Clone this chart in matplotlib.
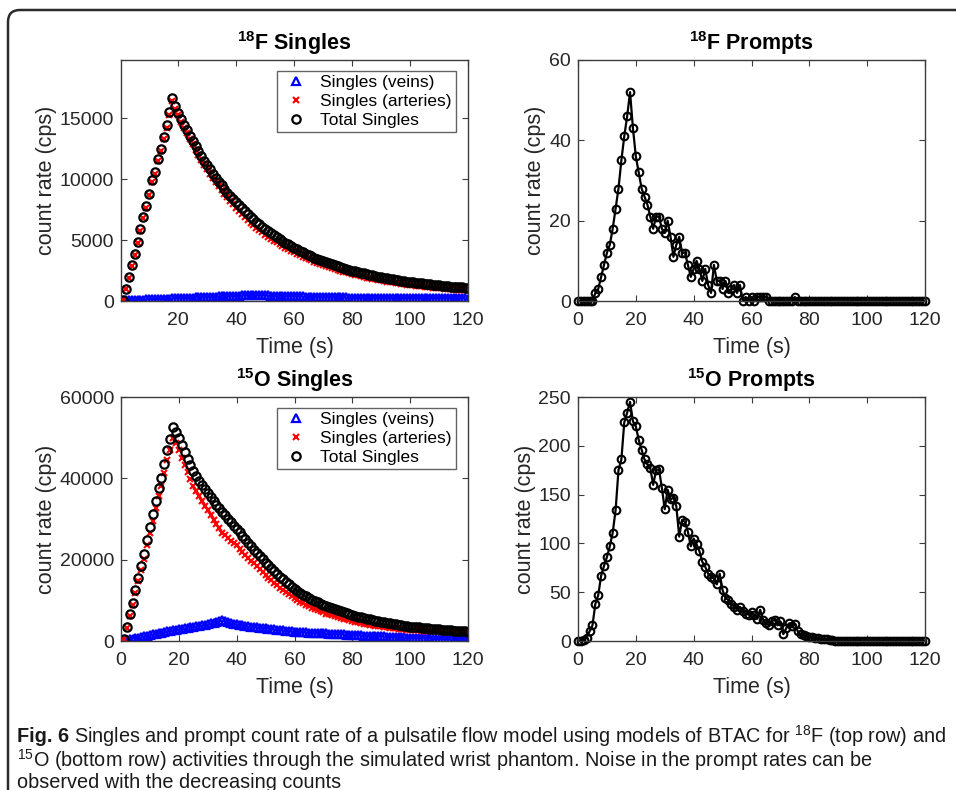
import matplotlib
matplotlib.use("Agg")
import matplotlib.pyplot as plt
from matplotlib.patches import FancyBboxPatch
from matplotlib.transforms import IdentityTransform

plt.rcParams['font.family'] = ['Liberation Sans', 'DejaVu Sans']
plt.rcParams['mathtext.fontset'] = 'custom'
plt.rcParams['mathtext.rm'] = 'Liberation Sans'
plt.rcParams['mathtext.bf'] = 'Liberation Sans:bold'

# time axes (s)
t_singles = list(range(1, 121))
t_prompts = list(range(0, 121))

# 18F singles (cps)
veins_18f = [40, 50, 60, 75, 80, 95, 100, 110, 125, 130,
             140, 150, 165, 170, 180, 190, 205, 210, 220, 230,
             240, 255, 260, 270, 285, 290, 300, 310, 320, 330,
             345, 350, 360, 370, 380, 390, 405, 410, 420, 430,
             440, 455, 460, 470, 480, 490, 500, 490, 480, 470,
             460, 450, 440, 430, 420, 410, 400, 395, 390, 385,
             380, 375, 370, 365, 360, 340, 330, 320, 315, 310,
             305, 300, 298, 296, 294, 292, 290, 288, 286, 284,
             282, 280, 278, 276, 274, 272, 270, 268, 266, 264,
             262, 260, 258, 256, 254, 252, 250, 248, 246, 244,
             242, 240, 238, 236, 234, 232, 230, 228, 226, 224,
             222, 220, 218, 216, 214, 212, 210, 208, 206, 204]
arteries_18f = [60, 950, 1930, 2910, 3810, 4780, 5790, 6820, 7680, 8680,
                9770, 10470, 11530, 12340, 13320, 14240, 15320, 16430, 15780, 15250,
                14740, 14250, 13770, 13310, 12860, 12430, 12010, 11600, 11210, 10840,
                10470, 10120, 9770, 9440, 9120, 8810, 8510, 8220, 7940, 7670,
                7410, 7150, 6910, 6670, 6440, 6220, 6000, 5810, 5630, 5450,
                5280, 5120, 4960, 4810, 4660, 4520, 4390, 4260, 4120, 4000,
                3870, 3760, 3640, 3530, 3420, 3340, 3240, 3150, 3070, 2970,
                2890, 2800, 2720, 2640, 2570, 2490, 2420, 2350, 2280, 2220,
                2160, 2100, 2040, 1980, 1930, 1880, 1830, 1780, 1730, 1690,
                1650, 1600, 1560, 1520, 1490, 1450, 1410, 1380, 1340, 1320,
                1290, 1260, 1230, 1200, 1180, 1150, 1130, 1100, 1080, 1060,
                1040, 1020, 990, 970, 960, 940, 930, 910, 890, 880]
total_18f = [100, 1000, 1990, 2980, 3890, 4870, 5890, 6930, 7800, 8810,
             9910, 10620, 11690, 12510, 13500, 14430, 15520, 16640, 16000, 15480,
             14980, 14500, 14030, 13580, 13140, 12720, 12310, 11910, 11530, 11170,
             10810, 10470, 10130, 9810, 9500, 9200, 8910, 8630, 8360, 8100,
             7850, 7600, 7370, 7140, 6920, 6710, 6500, 6300, 6110, 5920,
             5740, 5570, 5400, 5240, 5080, 4930, 4790, 4650, 4510, 4380,
             4250, 4130, 4010, 3890, 3780, 3680, 3570, 3470, 3380, 3280,
             3190, 3100, 3020, 2940, 2860, 2780, 2710, 2640, 2570, 2500,
             2440, 2380, 2320, 2260, 2200, 2150, 2100, 2050, 2000, 1950,
             1910, 1860, 1820, 1780, 1740, 1700, 1660, 1630, 1590, 1560,
             1530, 1500, 1470, 1440, 1410, 1380, 1360, 1330, 1310, 1280,
             1260, 1240, 1210, 1190, 1170, 1150, 1140, 1120, 1100, 1080]

# 15O singles (cps)
veins_15o = [50, 210, 370, 530, 690, 850, 1010, 1170, 1330, 1480,
             1630, 1780, 1930, 2080, 2230, 2380, 2540, 2700, 2820, 2940,
             3060, 3180, 3290, 3400, 3520, 3650, 3780, 3910, 4040, 4180,
             4360, 4540, 4720, 4900, 5100, 4900, 4700, 4500, 4300, 4100,
             3980, 3870, 3760, 3640, 3520, 3440, 3360, 3280, 3200, 3120,
             3030, 2950, 2870, 2780, 2700, 2620, 2540, 2450, 2370, 2290,
             2250, 2210, 2170, 2130, 2090, 2050, 2010, 1970, 1930, 1890,
             1850, 1810, 1770, 1730, 1690, 1640, 1600, 1560, 1520, 1480,
             1450, 1420, 1380, 1350, 1320, 1290, 1250, 1220, 1190, 1150,
             1120, 1090, 1050, 1020, 990, 950, 920, 890, 850, 820,
             790, 760, 730, 700, 660, 630, 600, 570, 540, 510,
             480, 450, 420, 390, 360, 330, 300, 260, 230, 200]
arteries_15o = [370, 3160, 6190, 8890, 11770, 14640, 17510, 20150, 23500, 26470,
                29600, 32640, 35610, 38070, 41210, 44500, 47050, 49840, 48680, 47050,
                45040, 43220, 41510, 39800, 38180, 36850, 35620, 34390, 33260, 32120,
                30940, 29860, 28780, 27700, 26600, 26000, 25300, 24700, 24100, 23500,
                22720, 21930, 21240, 20460, 19780, 19060, 18340, 17620, 16900, 16180,
                15570, 14950, 14330, 13720, 13100, 12580, 12060, 11550, 11030, 10510,
                10050, 9590, 9230, 8870, 8510, 8150, 7840, 7530, 7270, 7010,
                6750, 6540, 6330, 6120, 5910, 5710, 5500, 5290, 5080, 4920,
                4750, 4580, 4420, 4270, 4130, 4000, 3890, 3780, 3680, 3590,
                3480, 3380, 3290, 3200, 3110, 3030, 2940, 2860, 2790, 2710,
                2670, 2630, 2590, 2550, 2520, 2480, 2450, 2420, 2390, 2360,
                2330, 2300, 2270, 2240, 2210, 2180, 2150, 2140, 2110, 2090]
total_15o = [420, 3370, 6560, 9420, 12460, 15490, 18520, 21320, 24830, 27950,
             31230, 34420, 37540, 40150, 43440, 46880, 49590, 52540, 51500, 49990,
             48100, 46400, 44800, 43200, 41700, 40500, 39400, 38300, 37300, 36300,
             35300, 34400, 33500, 32600, 31700, 30900, 30000, 29200, 28400, 27600,
             26700, 25800, 25000, 24100, 23300, 22500, 21700, 20900, 20100, 19300,
             18600, 17900, 17200, 16500, 15800, 15200, 14600, 14000, 13400, 12800,
             12300, 11800, 11400, 11000, 10600, 10200, 9850, 9500, 9200, 8900,
             8600, 8350, 8100, 7850, 7600, 7350, 7100, 6850, 6600, 6400,
             6200, 6000, 5800, 5620, 5450, 5290, 5140, 5000, 4870, 4740,
             4600, 4470, 4340, 4220, 4100, 3980, 3860, 3750, 3640, 3530,
             3460, 3390, 3320, 3250, 3180, 3110, 3050, 2990, 2930, 2870,
             2810, 2750, 2690, 2630, 2570, 2510, 2450, 2400, 2340, 2290]

# prompts (cps), t = 0..120
prompts_18f = [0, 0, 0, 0, 0, 0, 2, 3, 6, 9,
               12, 14, 18, 23, 28, 35, 41, 46, 52, 43,
               36, 32, 28, 26, 24, 21, 18, 21, 21, 18,
               17, 20, 16, 11, 14, 16, 12, 12, 9, 6,
               8, 10, 8, 5, 8, 4, 2, 9, 5, 5,
               3, 5, 2, 3, 4, 2, 4, 0, 1, 0,
               1, 0, 1, 1, 1, 1, 0, 0, 0, 0,
               0, 0, 0, 0, 0, 1, 0, 0, 0, 0,
               0, 0, 0, 0, 0, 0, 0, 0, 0, 0,
               0, 0, 0, 0, 0, 0, 0, 0, 0, 0,
               0, 0, 0, 0, 0, 0, 0, 0, 0, 0,
               0, 0, 0, 0, 0, 0, 0, 0, 0, 0,
               0]
prompts_15o = [0, 0, 1, 3, 10, 16, 38, 47, 67, 77,
               86, 97, 111, 134, 175, 186, 224, 234, 245, 225,
               220, 206, 196, 186, 181, 177, 160, 175, 176, 157,
               135, 155, 145, 147, 138, 107, 124, 122, 112, 97,
               105, 99, 92, 81, 76, 69, 66, 64, 58, 69,
               52, 44, 42, 38, 35, 32, 35, 31, 28, 27,
               30, 27, 23, 32, 22, 18, 16, 20, 22, 16,
               20, 7, 13, 18, 15, 17, 10, 7, 6, 5,
               4, 4, 3, 3, 2, 2, 2, 1, 1, 0,
               0, 0, 0, 0, 0, 0, 0, 0, 0, 0,
               0, 0, 0, 0, 0, 0, 0, 0, 0, 0,
               0, 0, 0, 0, 0, 0, 0, 0, 0, 0,
               0]

legend_labels = ["Singles (veins)", "Singles (arteries)", "Total Singles"]

caption_bold = "Fig. 6"
caption_lines = [
    "Singles and prompt count rate of a pulsatile flow model using models of BTAC for $^{18}$F (top row) and",
    "$^{15}$O (bottom row) activities through the simulated wrist phantom. Noise in the prompt rates can be",
    "observed with the decreasing counts",
]

W, H = 956, 790
fig = plt.figure(figsize=(W / 100, H / 100), dpi=100)

# rounded frame around the figure panel (open to right / bottom)
frame = FancyBboxPatch((8, -60), 1100, 790 - 10 + 60,
                       boxstyle="round,pad=0,rounding_size=12",
                       transform=IdentityTransform(), fill=False,
                       edgecolor="#2b2b2b", linewidth=1.8)
fig.patches.append(frame)

gray = "#262626"


def style_axes(ax):
    for s in ax.spines.values():
        s.set_color("#3c3c3c")
        s.set_linewidth(1.0)
    ax.tick_params(direction="in", top=True, right=True, length=4, width=0.8,
                   labelsize=14, colors="#3c3c3c", labelcolor=gray)
    ax.tick_params(axis="x", pad=8)
    ax.tick_params(axis="y", pad=5)
    ax.set_xlabel("Time (s)", fontsize=15.5, color=gray, labelpad=6)
    ax.set_ylabel("count rate (cps)", fontsize=15.5, color=gray, labelpad=2)


def rect(l, t, r, b):
    return [l / W, 1 - b / H, (r - l) / W, (b - t) / H]


ax1 = fig.add_axes(rect(121, 60, 468, 301))
ax2 = fig.add_axes(rect(578, 60, 925, 301))
ax3 = fig.add_axes(rect(121, 397, 468, 641))
ax4 = fig.add_axes(rect(578, 397, 925, 641))

for ax, v, a, tot, ttl, ymax, yt in [
        (ax1, veins_18f, arteries_18f, total_18f, r"$^{\mathbf{18}}$F Singles", 19800, [0, 5000, 10000, 15000]),
        (ax3, veins_15o, arteries_15o, total_15o, r"$^{\mathbf{15}}$O Singles", 60000, [0, 20000, 40000, 60000])]:
    ax.plot(t_singles, v, linestyle="none", marker="^", ms=5.5, mfc="none", mec="#0000ff", mew=1.6, label=legend_labels[0])
    ax.plot(t_singles, a, linestyle="none", marker="x", ms=5, mec="#ff0000", mew=1.5, label=legend_labels[1])
    ax.plot(t_singles, tot, linestyle="none", marker="o", ms=6, mfc="none", mec="black", mew=1.6, label=legend_labels[2])
    ax.set_ylim(0, ymax)
    ax.set_yticks(yt)
    ax.set_title(ttl, fontsize=15.5, fontweight="bold", color="black", pad=7)
    leg = ax.legend(loc="upper right", bbox_to_anchor=(0.965, 0.955), fontsize=12.5,
                    frameon=True, fancybox=False, edgecolor="#3c3c3c",
                    handlelength=1.6, handletextpad=0.6, labelspacing=0.2,
                    borderpad=0.25, borderaxespad=0)
    leg.get_frame().set_linewidth(1.0)
    style_axes(ax)

ax1.set_xlim(0.3, 120)
ax1.set_xticks([20, 40, 60, 80, 100, 120])
ax3.set_xlim(0, 120)
ax3.set_xticks([0, 20, 40, 60, 80, 100, 120])

for ax, p, ttl, ymax, yt in [
        (ax2, prompts_18f, r"$^{\mathbf{18}}$F Prompts", 60, [0, 20, 40, 60]),
        (ax4, prompts_15o, r"$^{\mathbf{15}}$O Prompts", 250, [0, 50, 100, 150, 200, 250])]:
    ax.plot(t_prompts, p, color="black", linewidth=1.6, marker="o", ms=5.5,
            mfc="none", mec="black", mew=1.5, clip_on=False)
    ax.set_xlim(0, 120)
    ax.set_xticks([0, 20, 40, 60, 80, 100, 120])
    ax.set_ylim(0, ymax)
    ax.set_yticks(yt)
    ax.set_title(ttl, fontsize=15.5, fontweight="bold", color="black", pad=7)
    style_axes(ax)

# caption: fit the first line between x=17 and x=942 px
cap_font = ['Liberation Sans', 'DejaVu Sans']
cap_y = [736, 760, 782]
fs = 13
tb = fig.text(17 / W, 1 - cap_y[0] / H, caption_bold, fontsize=fs, fontweight="bold",
              family=cap_font, va="center", color="#1a1a1a")
t1 = fig.text(80 / W, 1 - cap_y[0] / H, caption_lines[0], fontsize=fs,
              family=cap_font, va="center", color="#1a1a1a")
t2 = fig.text(17 / W, 1 - cap_y[1] / H, caption_lines[1], fontsize=fs,
              family=cap_font, va="center", color="#1a1a1a")
t3 = fig.text(17 / W, 1 - cap_y[2] / H, caption_lines[2], fontsize=fs,
              family=cap_font, va="center", color="#1a1a1a")
fig.canvas.draw()
r = fig.canvas.get_renderer()
wb = tb.get_window_extent(r).width
w1 = t1.get_window_extent(r).width
gap = 5
scale = (942 - 17 - gap) / (wb + w1)
fs2 = fs * scale
for t in (tb, t1, t2, t3):
    t.set_fontsize(fs2)
t1.set_x((17 + wb * scale + gap) / W)

fig.savefig("out.png", dpi=100)
